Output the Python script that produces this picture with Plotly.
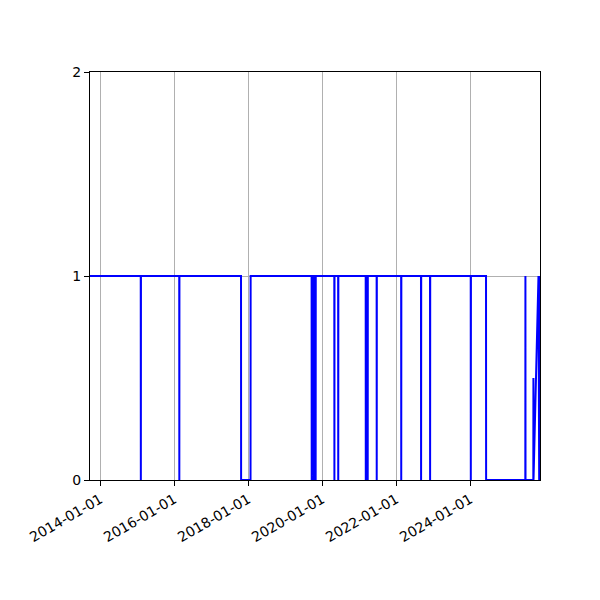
import plotly.graph_objects as go

# daily status: 1 = up, 0 = down (only the turning points are kept)
dates = [
    "2013-09-21", "2015-02-04", "2015-02-05", "2015-02-06",
    "2016-02-19", "2016-02-20", "2016-02-21",
    "2017-10-21", "2017-10-22", "2018-01-23", "2018-01-24",
    "2019-09-18", "2019-09-19", "2019-09-20",
    "2019-10-08", "2019-10-09", "2019-10-10",
    "2019-10-27", "2019-10-28", "2019-10-29",
    "2020-04-29", "2020-04-30", "2020-05-01",
    "2020-06-06", "2020-06-07", "2020-06-08",
    "2021-03-05", "2021-03-06", "2021-03-07",
    "2021-03-24", "2021-03-25", "2021-03-26",
    "2021-06-21", "2021-06-22", "2021-06-23",
    "2022-02-18", "2022-02-19", "2022-02-20",
    "2022-09-02", "2022-09-03", "2022-09-04",
    "2022-11-30", "2022-12-01", "2022-12-02",
    "2024-01-06", "2024-01-07", "2024-01-08",
    "2024-06-05", "2024-06-06",
    "2025-06-28", "2025-06-29", "2025-06-30",
    "2025-09-15", "2025-09-16", "2025-09-17",
    "2025-11-05", "2025-11-12", "2025-11-20",
]
status = [
    1, 1, 0, 1,
    1, 0, 1,
    1, 0, 0, 1,
    1, 0, 1,
    1, 0, 1,
    1, 0, 1,
    1, 0, 1,
    1, 0, 1,
    1, 0, 1,
    1, 0, 1,
    1, 0, 1,
    1, 0, 1,
    1, 0, 1,
    1, 0, 1,
    1, 0, 1,
    1, 0,
    0, 1, 0,
    0, 0.5, 0,
    1, 0, 1,
]
y_ticks = [0, 1, 2]

fig = go.Figure(go.Scatter(x=dates, y=status, mode="lines",
                           line=dict(color="#0000ff", width=2)))

axis_style = dict(showline=True, linecolor="black", linewidth=1, mirror=True,
                  ticks="outside", ticklen=5, tickcolor="black", tickwidth=1,
                  showgrid=True, gridcolor="#b0b0b0", gridwidth=1, zeroline=False,
                  tickfont=dict(family="DejaVu Sans", size=14, color="black"))

fig.update_xaxes(range=[dates[0], dates[-1]], tick0="2014-01-01", dtick="M24",
                 tickformat="%Y-%m-%d", tickangle=-30, **axis_style)
fig.update_yaxes(range=[0, 2], tickvals=y_ticks, **axis_style)
# the page body adds 8px, so the margins are shifted to put the axes where the original has them
fig.update_layout(width=600, height=600, showlegend=False,
                  plot_bgcolor="white", paper_bgcolor="white",
                  margin=dict(l=82, r=68, t=64, b=128))

fig.write_html("out.html")
